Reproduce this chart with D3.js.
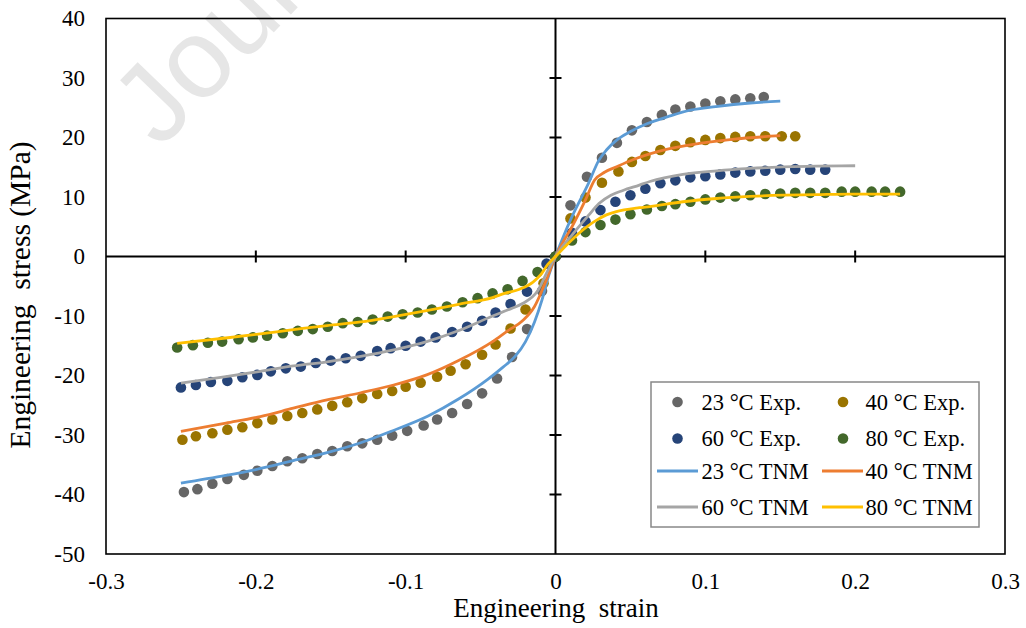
<!DOCTYPE html>
<html><head><meta charset="utf-8">
<script src="https://cdn.jsdelivr.net/npm/d3@7"></script>
<style>
html,body{margin:0;padding:0;background:#fff;}
svg{display:block;}
text{font-family:"Liberation Serif","Times New Roman",serif;fill:#000;}
</style></head>
<body>
<svg id="chart" width="1026" height="628"></svg>
<script>
// ---------------- data ----------------
const xTicks = [-0.3,-0.2,-0.1,0,0.1,0.2,0.3];
const yTicks = [-50,-40,-30,-20,-10,0,10,20,30,40];
const seriesNames = ["23 °C Exp.","40 °C Exp.","60 °C Exp.","80 °C Exp.","23 °C TNM","40 °C TNM","60 °C TNM","80 °C TNM"];

const exp23 = [[-0.248,-39.6],[-0.239,-39.1],[-0.229,-38.2],[-0.219,-37.4],[-0.208,-36.7],[-0.199,-36.0],[-0.189,-35.2],[-0.179,-34.4],[-0.169,-33.9],[-0.159,-33.2],[-0.149,-32.7],[-0.139,-31.9],[-0.129,-31.4],[-0.119,-30.8],[-0.109,-30.1],[-0.099,-29.3],[-0.088,-28.4],[-0.079,-27.4],[-0.069,-26.3],[-0.059,-24.8],[-0.049,-23.0],[-0.039,-20.5],[-0.029,-16.9],[-0.019,-12.2],[-0.009,-5.8],[0,0],
  [0.010,8.6],[0.021,13.4],[0.031,16.6],[0.041,19.1],[0.051,21.2],[0.061,22.6],[0.071,23.8],[0.080,24.7],[0.090,25.2],[0.100,25.7],[0.110,26.1],[0.120,26.4],[0.130,26.6],[0.139,26.8]];
const exp40 = [[-0.249,-30.8],[-0.240,-30.2],[-0.229,-29.7],[-0.219,-29.1],[-0.209,-28.7],[-0.199,-28.0],[-0.189,-27.4],[-0.179,-26.8],[-0.169,-26.3],[-0.159,-25.7],[-0.149,-25.1],[-0.139,-24.5],[-0.129,-23.8],[-0.119,-23.1],[-0.109,-22.6],[-0.100,-21.9],[-0.090,-21.2],[-0.079,-20.2],[-0.070,-19.2],[-0.060,-18.1],[-0.049,-16.5],[-0.040,-14.8],[-0.030,-12.1],[-0.020,-8.9],[-0.008,-4.5],[0,0],
  [0.010,6.4],[0.020,9.9],[0.031,12.4],[0.042,14.3],[0.051,15.9],[0.060,16.9],[0.070,17.9],[0.080,18.6],[0.090,19.2],[0.100,19.6],[0.110,19.9],[0.120,20.1],[0.130,20.2],[0.140,20.2],[0.151,20.2],[0.160,20.2]];
const exp60 = [[-0.250,-22.0],[-0.240,-21.6],[-0.230,-21.1],[-0.219,-20.9],[-0.209,-20.3],[-0.199,-19.9],[-0.190,-19.3],[-0.180,-18.8],[-0.170,-18.5],[-0.160,-17.9],[-0.150,-17.5],[-0.140,-17.1],[-0.130,-16.7],[-0.119,-15.9],[-0.110,-15.4],[-0.100,-15.0],[-0.090,-14.3],[-0.080,-13.6],[-0.069,-12.7],[-0.059,-11.8],[-0.049,-10.8],[-0.040,-9.4],[-0.030,-8.0],[-0.019,-5.9],[-0.006,-1.2],[0,0],
  [0.011,4.0],[0.020,5.9],[0.030,7.8],[0.040,9.2],[0.050,10.3],[0.060,11.4],[0.070,12.3],[0.080,12.8],[0.090,13.3],[0.100,13.5],[0.110,13.8],[0.120,14.1],[0.130,14.3],[0.140,14.4],[0.150,14.6],[0.160,14.7],[0.170,14.6],[0.180,14.6]];
const exp80 = [[-0.2525,-15.3],[-0.242,-14.9],[-0.232,-14.5],[-0.2225,-14.3],[-0.2115,-13.9],[-0.202,-13.6],[-0.1925,-13.3],[-0.182,-12.9],[-0.172,-12.5],[-0.162,-12.2],[-0.152,-11.8],[-0.142,-11.2],[-0.132,-11.0],[-0.122,-10.6],[-0.112,-10.1],[-0.102,-9.7],[-0.092,-9.4],[-0.0825,-8.9],[-0.0725,-8.4],[-0.062,-7.7],[-0.052,-7.0],[-0.042,-6.2],[-0.032,-5.5],[-0.022,-4.1],[-0.012,-2.6],[0,0],
  [0.011,2.7],[0.020,4.1],[0.030,5.3],[0.040,6.2],[0.050,7.1],[0.061,7.9],[0.071,8.5],[0.080,8.8],[0.090,9.2],[0.100,9.6],[0.110,9.9],[0.120,10.1],[0.130,10.3],[0.140,10.5],[0.150,10.6],[0.160,10.7],[0.170,10.7],[0.180,10.7],[0.191,10.9],[0.200,10.9],[0.211,10.9],[0.220,10.9],[0.230,10.9]];

const tnm23 = [[-0.25,-38.1],[-0.22,-36.8],[-0.2,-35.8],[-0.175,-34.3],[-0.15,-32.8],[-0.13,-31.3],[-0.11,-29.4],[-0.085,-26.8],[-0.065,-24.0],[-0.045,-20.6],[-0.035,-18.6],[-0.027,-16.8],[-0.02,-14.3],[-0.014,-11.0],[-0.009,-7.3],[-0.005,-3.6],[0,0],
  [0.005,3.2],[0.011,6.7],[0.022,12.3],[0.029,16.2],[0.034,17.9],[0.041,19.6],[0.05,21.0],[0.061,22.3],[0.075,23.5],[0.09,24.6],[0.107,25.2],[0.13,25.8],[0.15,26.1]];
const tnm40 = [[-0.25,-29.4],[-0.22,-28.0],[-0.197,-26.9],[-0.175,-25.5],[-0.1525,-24.1],[-0.13,-22.9],[-0.108,-21.6],[-0.086,-19.9],[-0.064,-17.4],[-0.042,-14.3],[-0.032,-12.5],[-0.022,-10.8],[-0.014,-8.4],[-0.007,-4.5],[0,0],
  [0.005,2.4],[0.011,5.0],[0.02,9.5],[0.026,12.8],[0.033,14.2],[0.04,15.0],[0.052,16.3],[0.074,18.0],[0.096,19.0],[0.118,19.7],[0.15,20.3]];
const tnm60 = [[-0.25,-21.3],[-0.22,-20.2],[-0.197,-19.3],[-0.175,-18.4],[-0.1525,-17.7],[-0.13,-16.8],[-0.108,-15.7],[-0.086,-14.3],[-0.064,-12.4],[-0.042,-10.0],[-0.03,-8.8],[-0.022,-7.9],[-0.012,-5.8],[-0.005,-2.3],[0,0],
  [0.005,1.8],[0.011,3.6],[0.022,6.9],[0.029,8.9],[0.037,10.3],[0.045,11.1],[0.056,12.0],[0.063,12.6],[0.085,13.8],[0.1075,14.4],[0.13,14.8],[0.152,15.05],[0.174,15.2],[0.2,15.25]];
const tnm80 = [[-0.2525,-14.6],[-0.22,-13.7],[-0.197,-13.0],[-0.175,-12.3],[-0.1525,-11.6],[-0.13,-11.0],[-0.108,-10.1],[-0.086,-9.1],[-0.064,-8.0],[-0.042,-6.9],[-0.034,-6.2],[-0.024,-5.5],[-0.015,-4.3],[-0.01,-3.1],[-0.005,-1.3],[0,0],
  [0.005,1.3],[0.011,2.8],[0.016,4.0],[0.022,5.2],[0.028,6.2],[0.034,7.0],[0.040,7.5],[0.056,8.2],[0.063,8.4],[0.085,9.2],[0.1075,9.75],[0.13,10.1],[0.152,10.3],[0.174,10.4],[0.196,10.5],[0.23,10.5]];

const dotColors = ["#666666","#9a7400","#264478","#43682b"];
const lineColors = ["#5b9bd5","#ed7d31","#a5a5a5","#ffc000"];

// ---------------- chart ----------------
const svg = d3.select("#chart");
const L = 106, R = 1005, T = 18.5, B = 554;
const x = d3.scaleLinear().domain([-0.3,0.3]).range([L,R]);
const y = d3.scaleLinear().domain([-50,40]).range([B,T]);
const serif = "'Liberation Serif','Times New Roman',serif";

// watermark
svg.append("text")
  .attr("transform","translate(160,150) rotate(-46)")
  .style("font-family","'Liberation Sans',Arial,sans-serif")
  .style("font-size","112px")
  .style("fill","#e6e6e6")
  .text("Journal Pre-proof");

// frame
svg.append("rect").attr("x",L).attr("y",T).attr("width",R-L).attr("height",B-T)
  .attr("fill","none").attr("stroke","#000").attr("stroke-width",1.6);

// zero axis lines
svg.append("line").attr("x1",L).attr("x2",R).attr("y1",y(0)).attr("y2",y(0)).attr("stroke","#000").attr("stroke-width",2);
svg.append("line").attr("x1",x(0)).attr("x2",x(0)).attr("y1",T).attr("y2",B).attr("stroke","#000").attr("stroke-width",2);

// crossing ticks on zero axes
svg.append("g").selectAll("line").data(xTicks.filter(d=>Math.abs(d)<0.29)).join("line")
  .attr("x1",d=>x(d)).attr("x2",d=>x(d)).attr("y1",y(0)-6).attr("y2",y(0)+6)
  .attr("stroke","#000").attr("stroke-width",2);
svg.append("g").selectAll("line").data(yTicks.filter(d=>d>-50&&d<40)).join("line")
  .attr("x1",x(0)-6).attr("x2",x(0)+6).attr("y1",d=>y(d)).attr("y2",d=>y(d))
  .attr("stroke","#000").attr("stroke-width",2);

// tick labels via d3 axes (placed at frame edges)
const fmtX = d => d===0 ? "0" : (d<0?"-":"") + Math.abs(d).toFixed(1);
const fmtY = d => (d<0?"-":"") + Math.abs(d);
const gx = svg.append("g").attr("transform",`translate(0,${B})`)
  .call(d3.axisBottom(x).tickValues(xTicks).tickFormat(fmtX).tickSize(0).tickPadding(19));
const gy = svg.append("g").attr("transform",`translate(${L},0)`)
  .call(d3.axisLeft(y).tickValues(yTicks).tickFormat(fmtY).tickSize(0).tickPadding(21));
[gx,gy].forEach(g=>{
  g.attr("font-family",serif).attr("font-size",23);
  g.select(".domain").remove();
  g.selectAll("text").style("font-family",serif).style("font-size","23px").attr("fill","#000");
});

// axis titles
svg.append("text").attr("x",556).attr("y",617).attr("text-anchor","middle")
  .style("font-family",serif).style("font-size","27px").style("white-space","pre").text("Engineering  strain");
svg.append("text").attr("transform","translate(30,295) rotate(-90)").attr("text-anchor","middle")
  .style("font-family",serif).style("font-size","29.5px").style("white-space","pre").text("Engineering  stress (MPa)");

// experimental dots
const expSeries = [exp23,exp40,exp60,exp80];
expSeries.forEach((s,i)=>{
  svg.append("g").selectAll("circle").data(s).join("circle")
    .attr("cx",d=>x(d[0])).attr("cy",d=>y(d[1])).attr("r",5.3)
    .attr("fill",dotColors[i]);
});

// model lines
const line = d3.line().x(d=>x(d[0])).y(d=>y(d[1])).curve(d3.curveMonotoneX);
[tnm23,tnm40,tnm60,tnm80].forEach((s,i)=>{
  svg.append("path").datum(s).attr("d",line).attr("fill","none")
    .attr("stroke",lineColors[i]).attr("stroke-width",2.8).attr("stroke-linejoin","round");
});

// legend
const lg = svg.append("g");
lg.append("rect").attr("x",651).attr("y",382).attr("width",328).attr("height",145)
  .attr("fill","#fff").attr("stroke","#888").attr("stroke-width",1.5);
const rowY = [402,438.5,471,507];
const colMark = [677.5,843];
const colLine = [[657,698],[822,863]];
const colText = [701.5,865.5];
seriesNames.forEach((name,i)=>{
  const r = Math.floor(i/2), c = i%2;
  if(i<4){
    lg.append("circle").attr("cx",colMark[c]).attr("cy",rowY[r]).attr("r",5.3).attr("fill",dotColors[i]);
  } else {
    lg.append("line").attr("x1",colLine[c][0]).attr("x2",colLine[c][1]).attr("y1",rowY[r]).attr("y2",rowY[r])
      .attr("stroke",lineColors[i-4]).attr("stroke-width",2.8);
  }
  lg.append("text").attr("x",colText[c]).attr("y",rowY[r]).attr("dy","0.35em")
    .style("font-family",serif).style("font-size","22.5px").text(name);
});
</script>
</body></html>
